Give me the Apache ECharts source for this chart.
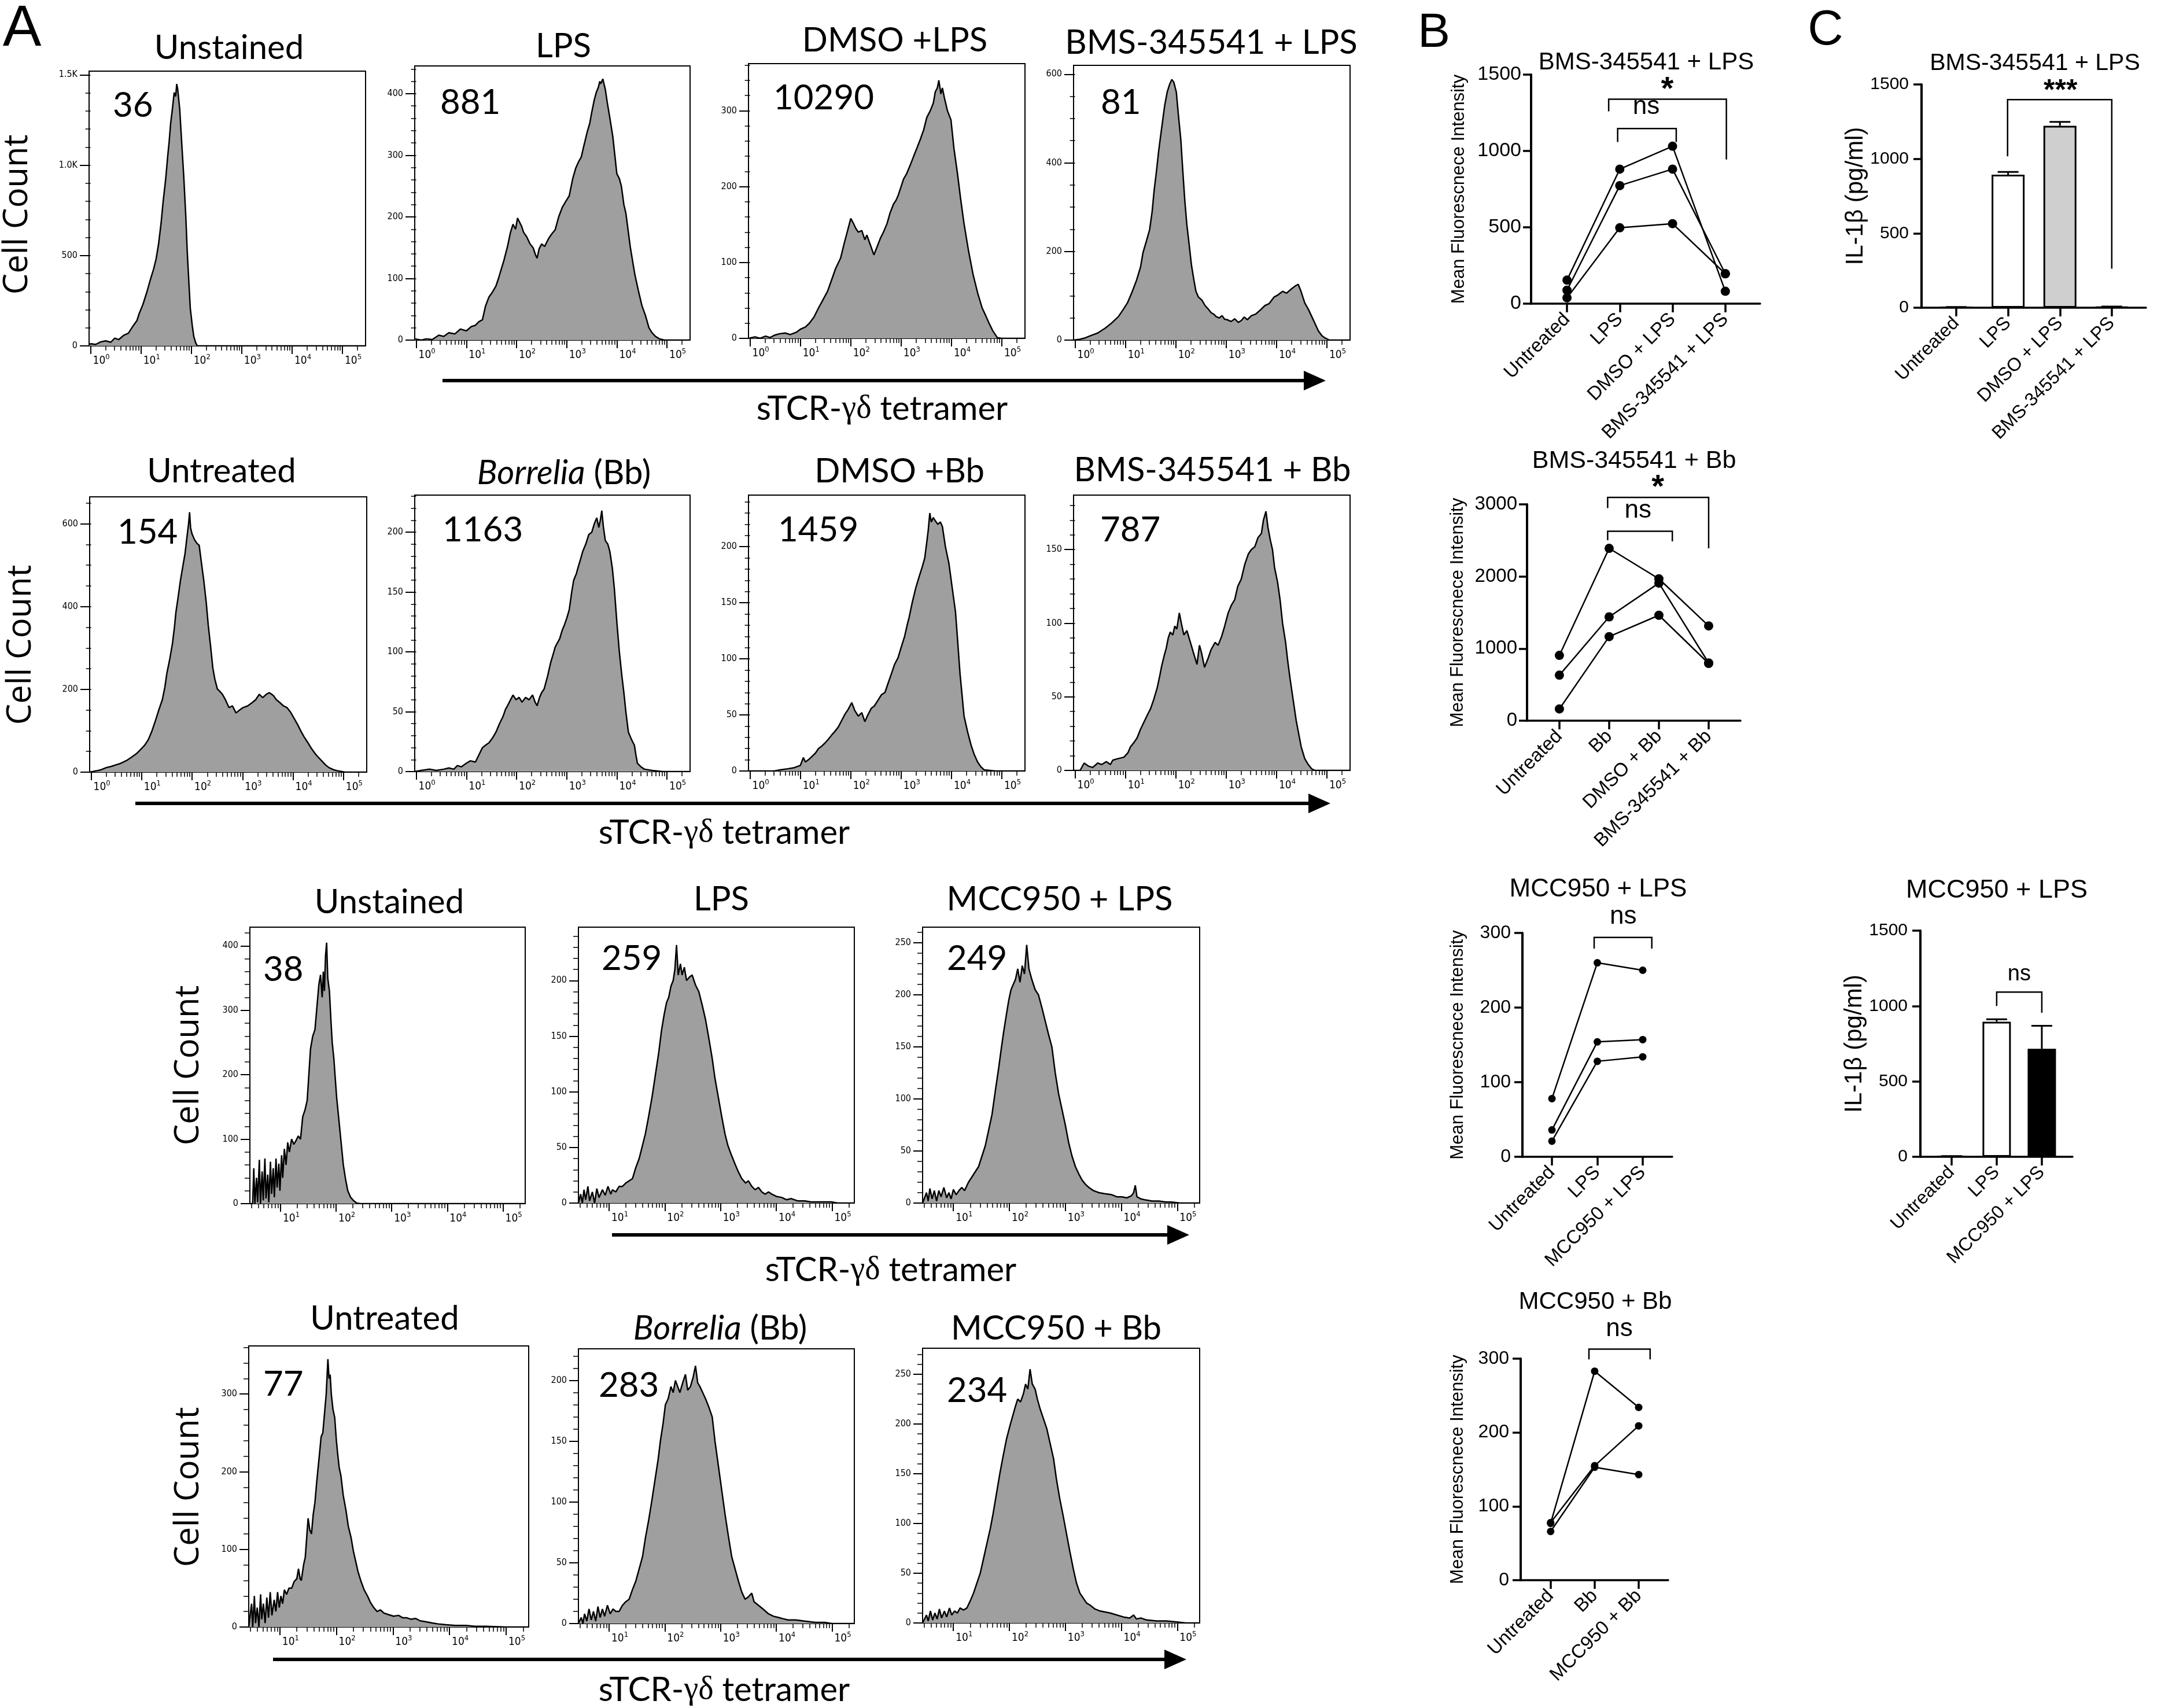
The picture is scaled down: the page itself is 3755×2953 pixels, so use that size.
<!DOCTYPE html>
<html><head><meta charset="utf-8">
<script src="https://cdn.jsdelivr.net/npm/echarts@6/dist/echarts.min.js"></script>
<style>html,body{margin:0;padding:0;background:#fff}#c{width:3755px;height:2953px}</style>
</head><body><div id="c"></div>
<script>
// ================= DATA =================
// Panel A histograms: [log10(sTCR-gd tetramer intensity), cell count]
const r1Unstained = [[-0.03,5],[0,12],[0.1,8],[0.2,22],[0.3,28],[0.4,20],[0.48,43],[0.56,35],[0.66,59],[0.75,70],[0.85,113],[0.92,140],[0.96,175],[1.04,230],[1.12,300],[1.18,360],[1.25,424],[1.3,480],[1.35,564],[1.4,680],[1.44,797],[1.49,920],[1.53,1045],[1.56,1130],[1.59,1232],[1.62,1300],[1.66,1402],[1.69,1380],[1.71,1449],[1.73,1420],[1.77,1309],[1.81,1120],[1.85,937],[1.89,720],[1.92,517],[1.95,360],[1.98,207],[2.02,110],[2.05,51],[2.09,15],[2.12,0],[5.46,0]];
const r1LPS = [[-0.03,2],[0.1,0],[0.2,2],[0.32,1],[0.45,8],[0.55,6],[0.65,12],[0.77,10],[0.88,18],[1.0,15],[1.1,22],[1.18,24],[1.25,30],[1.32,33],[1.38,55],[1.45,70],[1.52,78],[1.59,88],[1.64,100],[1.68,111],[1.75,130],[1.82,152],[1.88,175],[1.93,188],[1.98,180],[2.02,198],[2.05,193],[2.1,185],[2.14,175],[2.2,168],[2.27,156],[2.33,150],[2.38,138],[2.41,133],[2.45,148],[2.5,156],[2.56,152],[2.64,165],[2.7,172],[2.77,179],[2.84,200],[2.91,215],[2.98,225],[3.05,234],[3.12,262],[3.18,279],[3.24,290],[3.29,297],[3.35,318],[3.41,338],[3.46,352],[3.5,370],[3.55,390],[3.59,402],[3.63,410],[3.66,420],[3.68,416],[3.72,424],[3.77,407],[3.81,385],[3.86,361],[3.92,330],[4.0,270],[4.05,262],[4.09,250],[4.14,220],[4.18,206],[4.27,150],[4.36,106],[4.43,80],[4.5,56],[4.57,40],[4.64,20],[4.7,12],[4.77,6],[4.85,2],[4.95,0],[5.46,0]];
const r1DMSO = [[-0.03,0],[0.1,2],[0.2,0],[0.31,3],[0.4,1],[0.48,4],[0.58,6],[0.7,7],[0.8,5],[0.92,8],[1.0,12],[1.1,15],[1.18,20],[1.27,28],[1.36,40],[1.45,51],[1.54,62],[1.62,77],[1.7,92],[1.8,106],[1.87,125],[1.93,140],[1.97,150],[2.0,158],[2.05,152],[2.1,145],[2.15,140],[2.22,142],[2.28,130],[2.32,136],[2.38,125],[2.46,110],[2.52,120],[2.59,132],[2.65,140],[2.72,151],[2.78,165],[2.85,177],[2.9,182],[2.94,188],[3.0,200],[3.05,210],[3.11,217],[3.18,228],[3.25,240],[3.31,250],[3.38,262],[3.45,275],[3.51,291],[3.58,300],[3.64,310],[3.68,325],[3.72,330],[3.75,340],[3.79,322],[3.82,330],[3.86,317],[3.92,300],[3.99,288],[4.05,250],[4.12,217],[4.18,185],[4.25,151],[4.34,115],[4.43,84],[4.52,60],[4.61,40],[4.68,30],[4.74,21],[4.82,10],[4.91,1],[5.0,0],[5.46,0]];
const r1BMS = [[-0.03,0],[0.1,2],[0.2,5],[0.33,11],[0.45,16],[0.6,27],[0.72,38],[0.86,53],[0.95,68],[1.04,84],[1.13,108],[1.22,135],[1.3,165],[1.35,198],[1.42,225],[1.48,249],[1.53,290],[1.57,338],[1.62,385],[1.66,427],[1.7,462],[1.74,496],[1.78,530],[1.83,560],[1.88,578],[1.92,588],[1.96,582],[2.01,560],[2.05,510],[2.1,452],[2.14,380],[2.18,313],[2.22,260],[2.27,211],[2.31,170],[2.36,135],[2.4,110],[2.45,97],[2.52,90],[2.58,78],[2.63,72],[2.7,62],[2.76,58],[2.8,53],[2.86,50],[2.92,55],[2.97,47],[3.02,46],[3.1,42],[3.17,48],[3.24,40],[3.3,44],[3.36,52],[3.42,46],[3.5,55],[3.59,59],[3.68,68],[3.77,78],[3.85,82],[3.95,97],[4.03,102],[4.12,110],[4.2,106],[4.3,116],[4.37,122],[4.43,126],[4.48,112],[4.56,84],[4.63,70],[4.7,53],[4.77,36],[4.83,21],[4.9,10],[4.96,5],[5.05,0],[5.46,0]];
const r2Untreated = [[-0.03,0],[0.1,3],[0.2,6],[0.3,11],[0.4,14],[0.5,18],[0.58,21],[0.7,28],[0.81,37],[0.9,45],[0.99,56],[1.06,65],[1.13,78],[1.2,98],[1.27,123],[1.34,150],[1.41,175],[1.46,205],[1.5,239],[1.56,275],[1.61,310],[1.65,350],[1.68,387],[1.72,420],[1.77,464],[1.82,500],[1.86,528],[1.9,570],[1.93,600],[1.95,628],[1.97,590],[2.0,575],[2.05,561],[2.1,552],[2.14,548],[2.18,510],[2.23,464],[2.28,410],[2.32,355],[2.37,300],[2.41,252],[2.45,225],[2.5,201],[2.55,195],[2.6,188],[2.66,175],[2.73,156],[2.8,160],[2.87,143],[2.94,150],[3.01,156],[3.1,160],[3.19,168],[3.26,175],[3.33,188],[3.4,180],[3.47,188],[3.53,192],[3.61,185],[3.67,175],[3.74,168],[3.81,160],[3.88,156],[3.95,145],[4.02,130],[4.09,115],[4.16,98],[4.22,85],[4.29,72],[4.36,58],[4.43,46],[4.5,36],[4.57,27],[4.64,18],[4.71,11],[4.8,6],[4.89,3],[5.03,0],[5.46,0]];
const r2Bb = [[-0.03,0],[0.1,1],[0.27,2],[0.4,1],[0.55,2],[0.65,3],[0.75,2],[0.82,5],[0.9,4],[1.0,7],[1.08,9],[1.18,8],[1.25,14],[1.32,20],[1.38,22],[1.45,24],[1.52,28],[1.59,33],[1.66,40],[1.73,46],[1.78,52],[1.82,55],[1.88,60],[1.93,64],[1.99,60],[2.05,62],[2.11,58],[2.18,62],[2.25,60],[2.32,64],[2.37,58],[2.41,55],[2.46,62],[2.5,66],[2.55,69],[2.62,80],[2.68,91],[2.73,98],[2.77,104],[2.82,108],[2.86,111],[2.91,118],[2.95,122],[3.0,128],[3.05,135],[3.1,150],[3.14,160],[3.19,165],[3.23,171],[3.28,178],[3.32,184],[3.38,190],[3.44,198],[3.5,200],[3.55,207],[3.6,212],[3.64,204],[3.67,210],[3.7,218],[3.73,205],[3.77,193],[3.82,190],[3.86,184],[3.91,170],[3.95,153],[4.0,125],[4.05,100],[4.1,80],[4.14,66],[4.18,50],[4.23,33],[4.29,27],[4.35,22],[4.38,14],[4.41,7],[4.48,4],[4.55,2],[4.7,1],[4.91,0],[5.46,0]];
const r2DMSO = [[-0.03,0],[0.2,0],[0.48,0],[0.6,1],[0.75,2],[0.88,3],[1.0,5],[1.06,12],[1.1,8],[1.16,10],[1.23,13],[1.3,16],[1.36,20],[1.42,22],[1.49,25],[1.55,28],[1.62,32],[1.68,35],[1.75,39],[1.82,45],[1.89,51],[1.95,55],[2.02,61],[2.08,54],[2.15,49],[2.22,52],[2.28,44],[2.34,50],[2.41,56],[2.47,58],[2.54,63],[2.61,68],[2.68,70],[2.74,78],[2.81,87],[2.87,95],[2.94,101],[3.0,110],[3.07,120],[3.12,130],[3.16,137],[3.22,150],[3.29,163],[3.35,172],[3.42,182],[3.47,190],[3.51,204],[3.54,215],[3.57,230],[3.6,222],[3.64,226],[3.68,223],[3.73,220],[3.78,222],[3.82,218],[3.88,200],[3.95,185],[4.01,165],[4.08,142],[4.12,118],[4.17,87],[4.21,68],[4.25,49],[4.32,35],[4.39,23],[4.45,15],[4.52,8],[4.58,4],[4.65,1],[4.87,0],[5.46,0]];
const r2BMS = [[-0.03,0],[0.1,0],[0.18,5],[0.26,3],[0.35,2],[0.45,5],[0.53,4],[0.62,6],[0.7,4],[0.75,7],[0.85,8],[0.97,9],[1.05,12],[1.1,16],[1.17,19],[1.23,22],[1.3,28],[1.37,33],[1.44,38],[1.5,42],[1.56,48],[1.63,56],[1.68,64],[1.72,71],[1.77,78],[1.81,83],[1.85,90],[1.89,94],[1.94,92],[1.98,98],[2.02,96],[2.07,107],[2.11,100],[2.16,92],[2.22,95],[2.29,87],[2.35,80],[2.42,72],[2.47,85],[2.51,80],[2.57,70],[2.64,76],[2.7,82],[2.78,87],[2.84,85],[2.91,91],[2.97,98],[3.04,107],[3.1,112],[3.17,116],[3.23,125],[3.3,130],[3.37,140],[3.44,147],[3.5,150],[3.57,152],[3.63,158],[3.7,161],[3.74,170],[3.79,176],[3.83,165],[3.88,156],[3.92,150],[3.96,138],[4.02,128],[4.07,116],[4.12,100],[4.18,87],[4.22,75],[4.27,62],[4.33,48],[4.39,34],[4.44,25],[4.49,16],[4.56,8],[4.63,4],[4.7,1],[4.76,0],[5.46,0]];
const r3Unstained = [[0.45,0],[0.5,0],[0.52,55],[0.54,0],[0.57,40],[0.59,2],[0.62,68],[0.64,0],[0.67,50],[0.69,5],[0.72,70],[0.74,8],[0.77,45],[0.79,2],[0.82,65],[0.84,15],[0.87,55],[0.89,10],[0.92,70],[0.94,25],[0.97,62],[0.99,20],[1.02,75],[1.04,40],[1.07,85],[1.1,60],[1.13,95],[1.16,80],[1.2,100],[1.24,92],[1.28,98],[1.32,105],[1.36,100],[1.4,135],[1.44,145],[1.48,160],[1.51,200],[1.54,240],[1.58,260],[1.62,270],[1.65,300],[1.69,340],[1.72,355],[1.75,320],[1.77,360],[1.79,330],[1.81,385],[1.83,405],[1.85,350],[1.88,330],[1.91,280],[1.93,250],[1.96,225],[1.98,200],[2.01,165],[2.05,130],[2.09,95],[2.13,60],[2.17,38],[2.21,20],[2.26,10],[2.31,5],[2.37,1],[2.43,0],[5.4,0]];
const r3LPS = [[0.45,0],[0.49,8],[0.52,0],[0.55,12],[0.58,3],[0.62,15],[0.65,2],[0.7,10],[0.74,0],[0.78,13],[0.82,5],[0.88,12],[0.93,7],[0.98,15],[1.03,8],[1.06,12],[1.12,10],[1.18,15],[1.24,15],[1.3,18],[1.36,20],[1.42,22],[1.48,32],[1.54,40],[1.6,52],[1.65,62],[1.71,78],[1.77,95],[1.83,115],[1.89,135],[1.94,155],[1.99,170],[2.03,180],[2.07,185],[2.11,195],[2.15,200],[2.18,210],[2.21,232],[2.24,205],[2.28,215],[2.31,205],[2.35,212],[2.39,200],[2.44,203],[2.49,205],[2.55,196],[2.61,190],[2.67,178],[2.73,165],[2.79,148],[2.85,130],[2.9,112],[2.96,95],[3.02,78],[3.08,62],[3.13,52],[3.18,45],[3.22,40],[3.26,35],[3.32,28],[3.38,22],[3.45,18],[3.5,20],[3.56,15],[3.62,12],[3.68,14],[3.74,10],[3.8,8],[3.86,10],[3.92,8],[4.0,6],[4.1,5],[4.18,3],[4.27,4],[4.38,2],[4.51,2],[4.62,1],[4.75,1],[4.99,1],[5.1,0],[5.4,0]];
const r3MCC = [[0.45,0],[0.52,10],[0.55,2],[0.58,14],[0.62,4],[0.66,12],[0.7,2],[0.74,12],[0.78,6],[0.83,15],[0.88,5],[0.92,10],[0.96,4],[1.0,13],[1.05,8],[1.1,12],[1.15,15],[1.2,12],[1.27,20],[1.33,25],[1.39,30],[1.45,35],[1.51,45],[1.57,55],[1.63,70],[1.69,85],[1.75,108],[1.81,130],[1.86,150],[1.9,165],[1.95,182],[1.99,195],[2.03,205],[2.07,210],[2.11,215],[2.15,225],[2.19,212],[2.23,228],[2.27,220],[2.31,248],[2.35,225],[2.4,215],[2.46,205],[2.52,200],[2.58,188],[2.64,175],[2.7,162],[2.76,150],[2.82,125],[2.88,105],[2.94,90],[3.0,75],[3.06,58],[3.12,45],[3.18,35],[3.24,28],[3.3,22],[3.36,18],[3.42,15],[3.5,12],[3.6,10],[3.7,9],[3.83,8],[3.92,6],[4.01,6],[4.1,5],[4.18,7],[4.22,10],[4.25,17],[4.28,6],[4.35,4],[4.43,3],[4.55,2],[4.67,2],[4.8,1],[4.9,1],[5.05,0],[5.4,0]];
const r4Untreated = [[0.45,0],[0.5,30],[0.52,0],[0.55,40],[0.57,5],[0.6,25],[0.63,0],[0.66,42],[0.68,10],[0.71,30],[0.74,5],[0.77,38],[0.8,12],[0.83,45],[0.86,15],[0.9,35],[0.93,20],[0.96,45],[0.99,25],[1.02,40],[1.05,30],[1.08,48],[1.12,42],[1.16,50],[1.21,50],[1.25,58],[1.27,60],[1.3,62],[1.33,75],[1.36,62],[1.38,60],[1.42,80],[1.45,90],[1.48,120],[1.5,140],[1.53,125],[1.56,120],[1.59,145],[1.62,160],[1.65,185],[1.67,200],[1.7,222],[1.73,245],[1.76,250],[1.79,275],[1.82,300],[1.85,345],[1.87,320],[1.89,325],[1.91,300],[1.94,280],[1.97,270],[2.0,240],[2.02,225],[2.05,205],[2.08,195],[2.12,170],[2.17,150],[2.21,130],[2.26,115],[2.3,98],[2.34,85],[2.38,72],[2.43,60],[2.49,48],[2.55,40],[2.6,32],[2.66,25],[2.72,20],[2.78,22],[2.84,18],[2.92,16],[3.01,14],[3.1,15],[3.17,12],[3.24,12],[3.32,10],[3.4,11],[3.48,8],[3.56,7],[3.64,6],[3.71,5],[3.8,4],[3.94,3],[4.1,2],[4.29,2],[4.45,1],[4.64,1],[4.99,0],[5.4,0]];
const r4Bb = [[0.45,0],[0.5,5],[0.53,0],[0.56,8],[0.6,2],[0.64,12],[0.68,3],[0.72,10],[0.76,2],[0.8,14],[0.84,5],[0.88,12],[0.92,6],[0.97,15],[1.02,8],[1.07,12],[1.12,10],[1.18,10],[1.24,15],[1.3,18],[1.36,20],[1.42,28],[1.48,35],[1.54,45],[1.6,55],[1.65,70],[1.71,85],[1.77,102],[1.83,120],[1.88,135],[1.92,150],[1.97,165],[2.01,180],[2.06,185],[2.11,195],[2.15,190],[2.19,200],[2.23,195],[2.27,190],[2.32,198],[2.37,205],[2.41,192],[2.46,195],[2.51,203],[2.55,212],[2.59,198],[2.63,195],[2.68,190],[2.73,185],[2.79,178],[2.85,170],[2.9,150],[2.96,130],[3.02,110],[3.08,90],[3.14,72],[3.2,55],[3.26,45],[3.32,35],[3.38,26],[3.44,20],[3.5,22],[3.56,25],[3.6,18],[3.68,15],[3.76,12],[3.86,8],[3.95,6],[4.04,5],[4.12,4],[4.21,3],[4.35,3],[4.51,2],[4.7,1],[4.87,1],[5.0,0],[5.4,0]];
const r4MCC = [[0.45,0],[0.52,8],[0.55,2],[0.59,12],[0.63,3],[0.67,10],[0.71,4],[0.75,14],[0.79,5],[0.84,12],[0.88,6],[0.93,15],[0.97,8],[1.02,12],[1.07,10],[1.12,15],[1.18,13],[1.24,15],[1.3,22],[1.36,30],[1.42,40],[1.48,50],[1.54,65],[1.6,80],[1.66,95],[1.71,110],[1.77,130],[1.83,150],[1.89,168],[1.95,185],[2.01,198],[2.07,210],[2.11,218],[2.15,225],[2.2,222],[2.25,230],[2.29,240],[2.33,235],[2.37,255],[2.41,240],[2.46,235],[2.5,225],[2.55,215],[2.61,205],[2.67,195],[2.73,180],[2.79,165],[2.84,145],[2.9,125],[2.96,108],[3.02,90],[3.08,72],[3.14,55],[3.2,40],[3.26,30],[3.32,25],[3.38,20],[3.44,18],[3.53,14],[3.62,12],[3.71,11],[3.8,10],[3.92,8],[4.04,6],[4.15,5],[4.22,8],[4.27,4],[4.35,5],[4.45,3],[4.63,2],[4.8,2],[4.99,1],[5.15,0],[5.4,0]];

const histTitles = ['Unstained','LPS','DMSO +LPS','BMS-345541 + LPS','Untreated','{i|Borrelia} (Bb)','DMSO +Bb','BMS-345541 + Bb','Unstained','LPS','MCC950 + LPS','Untreated','{i|Borrelia} (Bb)','MCC950 + Bb'];
const histMFI = ['36','881','10290','81','154','1163','1459','787','38','259','249','77','283','234'];
const histYMax = [1520,445,362,620,665,231,246,187,429,248,265,362,226,276];
const histYTicks = [[0,500,1000,1500],[0,100,200,300,400],[0,100,200,300],[0,200,400,600],[0,200,400,600],[0,50,100,150,200],[0,50,100,150,200],[0,50,100,150],[0,100,200,300,400],[0,50,100,150,200],[0,50,100,150,200,250],[0,100,200,300],[0,50,100,150,200],[0,50,100,150,200,250]];
const histYMinorStep = [100,20,20,50,50,10,10,10,20,10,10,20,10,10];
const decadeLabelsWide = [0,1,2,3,4,5];
const decadeLabelsNarrow = [1,2,3,4,5];
const axisLabelA = 'sTCR-{g|γδ} tetramer';

// Panel B: MFI per donor (three donors)
const b1Cats = ['Untreated','LPS','DMSO + LPS','BMS-345541 + LPS'];
const b1Donors = [[154,881,1031,81],[88,773,881,196],[38,497,524,196]];
const b2Cats = ['Untreated','Bb','DMSO + Bb','BMS-345541 + Bb'];
const b2Donors = [[906,2390,1967,1314],[631,1440,1908,800],[163,1166,1462,794]];
const b3Cats = ['Untreated','LPS','MCC950 + LPS'];
const b3Donors = [[78,260,250],[36,154,157],[21,128,134]];
const b4Cats = ['Untreated','Bb','MCC950 + Bb'];
const b4Donors = [[77,283,234],[78,155,209],[66,153,143]];
const bYTicks1 = [0,500,1000,1500];
const bYTicks2 = [0,1000,2000,3000];
const bYTicks3 = [0,100,200,300];
// significance brackets: [x1, x2, yTop, yDrop1, yDrop2, xText, yText]
const b1Sig = [[0.79,3.02,1339,1259,944,1.9,1400],[0.96,2.07,1147,1059,1059,1.5,1287]];
const b1SigText = ['*','ns'];
const b2Sig = [[0.97,3.0,3096,2947,2390,1.98,3230],[0.97,2.27,2628,2502,2487,1.58,2910]];
const b2SigText = ['*','ns'];
const b3Sig = [[0.93,2.2,294,279,279,1.57,322]];
const b4Sig = [[0.87,2.26,313,299,299,1.56,340]];
const nsText = ['ns'];

// Panel C: IL-1beta (pg/ml), mean and SEM
const c1Cats = ['Untreated','LPS','DMSO + LPS','BMS-345541 + LPS'];
const c1Mean = [3,894,1222,5];
const c1Err = [2,18,26,3];
const c1Fill = ['#ffffff','#ffffff','#cfcfcf','#ffffff'];
const c2Cats = ['Untreated','LPS','MCC950 + LPS'];
const c2Mean = [3,896,716];
const c2Err = [2,16,153];
const c2Fill = ['#ffffff','#ffffff','#000000'];
const cYTicks = [0,500,1000,1500];
const c1Sig = [[0.99,3.0,1398,1017,262,2.01,1451]];
const c1SigText = ['***'];
const c2Sig = [[1.0,2.0,1092,1000,955,1.5,1210]];

// ================= LAYOUT =================
const FA = 'Lato, "Open Sans", sans-serif';
const FH = '"Liberation Sans", Arial, Helvetica, sans-serif';
const FN = '"Liberation Sans Narrow", "DejaVu Sans Condensed", "Liberation Sans", sans-serif';
const FC = '"Open Sans", "DejaVu Sans", sans-serif';

const histData = [r1Unstained,r1LPS,r1DMSO,r1BMS,r2Untreated,r2Bb,r2DMSO,r2BMS,r3Unstained,r3LPS,r3MCC,r4Untreated,r4Bb,r4MCC];
const histBoxes = [[154,123,632,598],[717,114,1193,588],[1294,110,1772,585],[1856,113,2334,588],
  [155,859,634,1335],[717,856,1193,1334],[1294,856,1772,1333],[1856,856,2334,1332],
  [432,1603,908,2081],[1000,1603,1477,2080],[1595,1603,2074,2080],
  [430,2327,914,2813],[1000,2332,1477,2807],[1595,2331,2074,2806]];
const histTitlePos = [[396,83],[974,80],[1547,70],[2094,74],[383,815],[975,818],[1555,815],[2096,813],[673,1560],[1247,1555],[1832,1555],[665,2280],[1245,2297],[1826,2297]];
const histMFIPos = [[195,183],[761,178],[1337,170],[1903,178],[203,921],[765,917],[1345,917],[1902,917],[455,1677],[1040,1658],[1637,1658],[455,2394],[1035,2396],[1637,2405]];
const cellCountPos = [[30,371],[36,1115],[326,1842],[326,2571]];
const tetramerPos = [[1525,707],[1252,1440],[1540,2196],[1252,2922]];
const arrowPos = [[765,2292,658],[234,2300,1389],[1058,2056,2135],[472,2051,2869]];

const option = {backgroundColor:'#fff', animation:false, grid:[], xAxis:[], yAxis:[], series:[], graphic:{elements:[]}};
const G = option.graphic.elements;

function txt(x, y, text, size, family, more) {
  more = more || {};
  const el = {type:'text', x:x, y:y, silent:true, z:50,
    style:Object.assign({text:text, fontSize:size, fontFamily:family, fill:'#000', align:'center', verticalAlign:'middle'}, more.style || {})};
  if (more.rotation) el.rotation = more.rotation;
  return el;
}

// ---- Panel A histograms ----
histData.forEach(function (d, i) {
  const b = histBoxes[i];
  const g = option.grid.length;
  option.grid.push({left:b[0], top:b[1], width:b[2]-b[0], height:b[3]-b[1], show:true, borderColor:'#000', borderWidth:2, backgroundColor:'rgba(0,0,0,0)'});
  const wide = i < 8;
  const xr = wide ? [-0.03, 5.46] : [0.45, 5.4];
  const majors = wide ? decadeLabelsWide : decadeLabelsNarrow;
  const minors = [];
  for (let dd = -1; dd <= 5; dd++) for (let k = 2; k <= 9; k++) { const v = dd + Math.log10(k); if (v > xr[0] && v < xr[1]) minors.push(v); }
  const xi = option.xAxis.length;
  option.xAxis.push({gridIndex:g, type:'value', position:'bottom', min:xr[0], max:xr[1],
    axisLine:{onZero:false, lineStyle:{color:'#000', width:2}},
    axisTick:{customValues:majors, length:14, lineStyle:{color:'#000', width:2}},
    axisLabel:{customValues:majors, margin:13, align:'left', padding:[0,0,0,4], color:'#000',
      formatter:function (v) { return '{b|10}{s|' + v + '}'; },
      rich:{b:{fontSize:19, fontFamily:FN, color:'#000', lineHeight:26}, s:{fontSize:13, fontFamily:FN, color:'#000', lineHeight:13, verticalAlign:'top'}}},
    splitLine:{show:false}});
  option.xAxis.push({gridIndex:g, type:'value', position:'bottom', min:xr[0], max:xr[1],
    axisLine:{show:false}, axisTick:{customValues:minors, length:8, lineStyle:{color:'#000', width:1.5}},
    axisLabel:{show:false}, splitLine:{show:false}});
  const yMinor = [];
  for (let v = 0; v <= histYMax[i]; v += histYMinorStep[i]) yMinor.push(v);
  const yi = option.yAxis.length;
  option.yAxis.push({gridIndex:g, type:'value', position:'left', min:0, max:histYMax[i],
    axisLine:{onZero:false, lineStyle:{color:'#000', width:2}},
    axisTick:{customValues:histYTicks[i], length:16, lineStyle:{color:'#000', width:2}},
    axisLabel:{customValues:histYTicks[i], margin:20, fontSize:16, fontFamily:FN, color:'#000',
      formatter:function (v) { return v >= 1000 ? (v/1000).toFixed(1) + 'K' : String(v); }},
    splitLine:{show:false}});
  option.yAxis.push({gridIndex:g, type:'value', position:'left', min:0, max:histYMax[i],
    axisLine:{show:false}, axisTick:{customValues:yMinor, length:9, lineStyle:{color:'#000', width:1.5}},
    axisLabel:{show:false}, splitLine:{show:false}});
  option.series.push({type:'line', xAxisIndex:xi, yAxisIndex:yi, data:d, symbol:'none', silent:true,
    lineStyle:{color:'#000', width:2.5}, areaStyle:{color:'#9f9f9f', opacity:1}});
  const tp = histTitlePos[i];
  G.push(txt(tp[0], tp[1], histTitles[i], 58, FA, {style:{rich:{i:{fontStyle:'italic', fontSize:58, fontFamily:FA}}}}));
  const mp = histMFIPos[i];
  G.push(txt(mp[0], mp[1], histMFI[i], 60, FA, {style:{align:'left'}}));
});

cellCountPos.forEach(function (p) { G.push(txt(p[0], p[1], 'Cell Count', 58, FC, {rotation:Math.PI/2})); });
tetramerPos.forEach(function (p) { G.push(txt(p[0], p[1], axisLabelA, 58, FA, {style:{rich:{g:{fontSize:56, fontFamily:'"Liberation Serif", "DejaVu Serif", serif'}}}})); });
arrowPos.forEach(function (a) {
  G.push({type:'line', silent:true, shape:{x1:a[0], y1:a[2], x2:a[1]-30, y2:a[2]}, style:{stroke:'#000', lineWidth:6}});
  G.push({type:'polygon', silent:true, shape:{points:[[a[1]-38, a[2]-17],[a[1], a[2]],[a[1]-38, a[2]+17]]}, style:{fill:'#000'}});
});

// ---- helpers for B and C ----
function catPanel(cfg) {
  const g = option.grid.length;
  option.grid.push({left:cfg.box[0], top:cfg.box[1], width:cfg.box[2]-cfg.box[0], height:cfg.box[3]-cfg.box[1], show:false});
  const idx = cfg.cats.map(function (c, k) { return k; });
  const xi = option.xAxis.length, yi = option.yAxis.length;
  option.xAxis.push({gridIndex:g, type:'value', position:'bottom', min:cfg.xr[0], max:cfg.xr[1],
    axisLine:{onZero:false, lineStyle:{color:'#000', width:3.5}},
    axisTick:{customValues:idx, length:15, lineStyle:{color:'#000', width:3.5}},
    axisLabel:{customValues:idx, rotate:45, margin:22, fontSize:cfg.xFont, fontFamily:FH, color:'#000',
      formatter:function (v) { return cfg.cats[Math.round(v)]; }},
    splitLine:{show:false}});
  option.yAxis.push({gridIndex:g, type:'value', position:'left', min:0, max:cfg.yMax,
    axisLine:{onZero:false, lineStyle:{color:'#000', width:4}},
    axisTick:{customValues:cfg.yTicks, length:14, lineStyle:{color:'#000', width:3.5}},
    axisLabel:{customValues:cfg.yTicks, margin:cfg.yMargin, fontSize:cfg.yFont, fontFamily:FH, color:'#000',
      formatter:function (v) { return String(v); }},
    splitLine:{show:false},
    name:cfg.yName, nameLocation:'middle', nameRotate:90, nameGap:cfg.nameGap,
    nameTextStyle:{fontSize:cfg.nameFont, fontFamily:FH, color:'#000'}});
  if (cfg.sig) {
    option.series.push({type:'custom', xAxisIndex:xi, yAxisIndex:yi, data:cfg.sig, clip:false, silent:true, z:10,
      renderItem:function (params, api) {
        const x1 = api.value(0), x2 = api.value(1), yt = api.value(2);
        const pts = [api.coord([x1, api.value(3)]), api.coord([x1, yt]), api.coord([x2, yt]), api.coord([x2, api.value(4)])];
        const tp = api.coord([api.value(5), api.value(6)]);
        const lab = cfg.sigText[params.dataIndex];
        const star = lab.indexOf('*') >= 0;
        return {type:'group', children:[
          {type:'polyline', shape:{points:pts}, style:{stroke:'#000', lineWidth:2.5, fill:null}},
          {type:'text', x:tp[0], y:tp[1], style:{text:lab, fontSize:star ? cfg.starFont : cfg.nsFont, fontWeight:star ? 'bold' : 'normal', fontFamily:FH, fill:'#000', align:'center', verticalAlign:'middle'}}]};
      }});
  }
  G.push(txt(cfg.title[0], cfg.title[1], cfg.titleText, cfg.titleFont, FH));
  return {xi:xi, yi:yi};
}

function linePanel(cfg, donors, symSize) {
  const ax = catPanel(cfg);
  donors.forEach(function (dn) {
    option.series.push({type:'line', xAxisIndex:ax.xi, yAxisIndex:ax.yi, silent:true,
      data:dn.map(function (v, k) { return [k, v]; }), symbol:'circle', symbolSize:symSize,
      itemStyle:{color:'#000'}, lineStyle:{color:'#000', width:2.5}});
  });
}

function barPanel(cfg, mean, err, fill, barW) {
  const ax = catPanel(cfg);
  option.series.push({type:'bar', xAxisIndex:ax.xi, yAxisIndex:ax.yi, barWidth:barW, silent:true,
    itemStyle:{borderColor:'#000', borderWidth:3},
    data:mean.map(function (v, k) { return {value:[k, v], itemStyle:{color:fill[k], borderColor:'#000', borderWidth:3}}; })});
  option.series.push({type:'custom', xAxisIndex:ax.xi, yAxisIndex:ax.yi, silent:true, z:5,
    data:mean.map(function (v, k) { return [k, v, err[k]]; }),
    renderItem:function (params, api) {
      const a = api.coord([api.value(0), api.value(1)]);
      const t = api.coord([api.value(0), api.value(1) + api.value(2)]);
      return {type:'group', children:[
        {type:'line', shape:{x1:a[0], y1:a[1], x2:t[0], y2:t[1]}, style:{stroke:'#000', lineWidth:3}},
        {type:'line', shape:{x1:t[0]-18, y1:t[1], x2:t[0]+18, y2:t[1]}, style:{stroke:'#000', lineWidth:3}}]};
    }});
}

const MFI = 'Mean Fluorescnece Intensity';
linePanel({box:[2647,129,3043,525], xr:[-0.68,3.66], cats:b1Cats, yMax:1500, yTicks:bYTicks1, yFont:34, yMargin:17, xFont:33,
  yName:MFI, nameGap:109, nameFont:31, sig:b1Sig, sigText:b1SigText, starFont:56, nsFont:44,
  title:[2846,108], titleText:'BMS-345541 + LPS', titleFont:42}, b1Donors, 16);
linePanel({box:[2640,872,3009,1246], xr:[-0.65,3.64], cats:b2Cats, yMax:3000, yTicks:bYTicks2, yFont:33, yMargin:17, xFont:33,
  yName:MFI, nameGap:104, nameFont:31, sig:b2Sig, sigText:b2SigText, starFont:56, nsFont:44,
  title:[2825,797], titleText:'BMS-345541 + Bb', titleFont:43}, b2Donors, 16);
linePanel({box:[2632,1613,2891,2000], xr:[-0.65,2.65], cats:b3Cats, yMax:300, yTicks:bYTicks3, yFont:32, yMargin:20, xFont:33,
  yName:MFI, nameGap:96, nameFont:31, sig:b3Sig, sigText:nsText, starFont:56, nsFont:44,
  title:[2763,1538], titleText:'MCC950 + LPS', titleFont:44}, b3Donors, 13);
linePanel({box:[2629,2349,2884,2732], xr:[-0.68,2.67], cats:b4Cats, yMax:300, yTicks:bYTicks3, yFont:32, yMargin:20, xFont:33,
  yName:MFI, nameGap:93, nameFont:31, sig:b4Sig, sigText:nsText, starFont:56, nsFont:44,
  title:[2758,2251], titleText:'MCC950 + Bb', titleFont:42}, b4Donors, 13);

barPanel({box:[3322,146,3710,532], xr:[-0.67,3.66], cats:c1Cats, yMax:1500, yTicks:cYTicks, yFont:30, yMargin:22, xFont:32,
  yName:'IL-1β (pg/ml)', nameGap:92, nameFont:42, sig:c1Sig, sigText:c1SigText, starFont:50, nsFont:38,
  title:[3518,110], titleText:'BMS-345541 + LPS', titleFont:41}, c1Mean, c1Err, c1Fill, 57);
barPanel({box:[3320,1609,3583,2000], xr:[-0.69,2.68], cats:c2Cats, yMax:1500, yTicks:cYTicks, yFont:30, yMargin:22, xFont:32,
  yName:'IL-1β (pg/ml)', nameGap:92, nameFont:42, sig:c2Sig, sigText:nsText, starFont:50, nsFont:38,
  title:[3452,1540], titleText:'MCC950 + LPS', titleFont:45}, c2Mean, c2Err, c2Fill, 49);

// panel letters
G.push(txt(38, 51, 'A', 100, FH));
G.push(txt(2479, 58, 'B', 84, FH));
G.push(txt(3156, 54, 'C', 85, FH));

const chart = echarts.init(document.getElementById('c'), null, {renderer:'canvas', width:3755, height:2953});
chart.setOption(option);
</script>
</body></html>
